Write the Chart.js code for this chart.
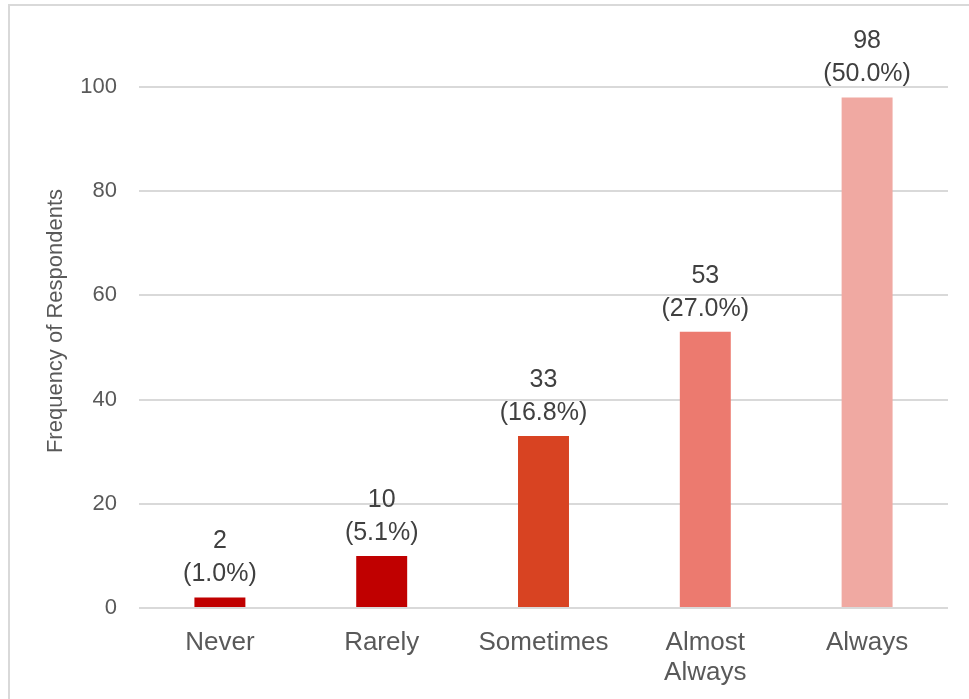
<!DOCTYPE html>
<html>
<head>
<meta charset="utf-8">
<script src="https://cdn.jsdelivr.net/npm/chart.js@4"></script>
<style>
  html, body { margin: 0; padding: 0; background: #fff; overflow: hidden; }
  #frame {
    position: absolute; left: 8px; top: 4px;
    width: 1000px; height: 760px;
    border: 2px solid #d9d9d9;
  }
  #wrap { position: absolute; left: 0; top: 0; width: 969px; height: 699px; }
</style>
</head>
<body>
<div id="frame"></div>
<div id="wrap"><canvas id="freq"></canvas></div>
<script>
var categories = ["Never", "Rarely", "Sometimes", ["Almost", "Always"], "Always"];
var counts = [2, 10, 33, 53, 98];
var barColors = ['#C00000', '#C00000', '#D84322', '#EC7A6F', '#F0A9A2'];
var yTicks = [0, 20, 40, 60, 80, 100];

var total = counts.reduce(function (a, b) { return a + b; }, 0);

// value + share written above each bar
var barLabels = {
  id: 'barLabels',
  afterDatasetsDraw: function (chart) {
    var ctx = chart.ctx;
    var meta = chart.getDatasetMeta(0);
    ctx.save();
    ctx.fillStyle = '#404040';
    ctx.font = '25px "Liberation Sans", Arial, sans-serif';
    ctx.textAlign = 'center';
    ctx.textBaseline = 'middle';
    meta.data.forEach(function (bar, i) {
      var pct = (counts[i] / total * 100).toFixed(1);
      ctx.fillText('(' + pct + '%)', bar.x, bar.y - 23);
      ctx.fillText(String(counts[i]), bar.x, bar.y - 56);
    });
    ctx.restore();
  }
};

// y axis title, sits a little above the plot's middle
var yTitle = {
  id: 'yTitle',
  afterDraw: function (chart) {
    var ctx = chart.ctx;
    ctx.save();
    ctx.translate(56, 321);
    ctx.rotate(-Math.PI / 2);
    ctx.fillStyle = '#595959';
    ctx.font = '22px "Liberation Sans", Arial, sans-serif';
    ctx.textAlign = 'center';
    ctx.textBaseline = 'middle';
    ctx.fillText('Frequency of Respondents', 0, 0);
    ctx.restore();
  }
};

var freqChart = new Chart(document.getElementById('freq'), {
  type: 'bar',
  data: {
    labels: categories,
    datasets: [{
      data: counts,
      backgroundColor: barColors,
      borderWidth: 0,
      categoryPercentage: 1,
      barPercentage: 0.315
    }]
  },
  options: {
    responsive: true,
    maintainAspectRatio: false,
    animation: { duration: 0 },
    layout: { padding: { top: 87, right: 21, bottom: 0, left: 0 } },
    plugins: {
      legend: { display: false },
      tooltip: { enabled: false }
    },
    scales: {
      x: {
        grid: { display: false },
        border: { display: false },
        ticks: {
          color: '#595959',
          font: { family: '"Liberation Sans", Arial, sans-serif', size: 26, lineHeight: 1.15 },
          padding: 12,
          maxRotation: 0,
          autoSkip: false
        },
        afterFit: function (scale) { scale.height = 91; }
      },
      y: {
        min: 0,
        max: 100,
        afterBuildTicks: function (scale) {
          scale.ticks = yTicks.map(function (v) { return { value: v }; });
        },
        grid: { color: '#d9d9d9', lineWidth: 2, drawTicks: false },
        border: { display: false },
        ticks: {
          color: '#595959',
          font: { family: '"Liberation Sans", Arial, sans-serif', size: 22 },
          padding: 22
        },
        afterFit: function (scale) { scale.width = 139; }
      }
    }
  },
  plugins: [barLabels, yTitle]
});
</script>
</body>
</html>
